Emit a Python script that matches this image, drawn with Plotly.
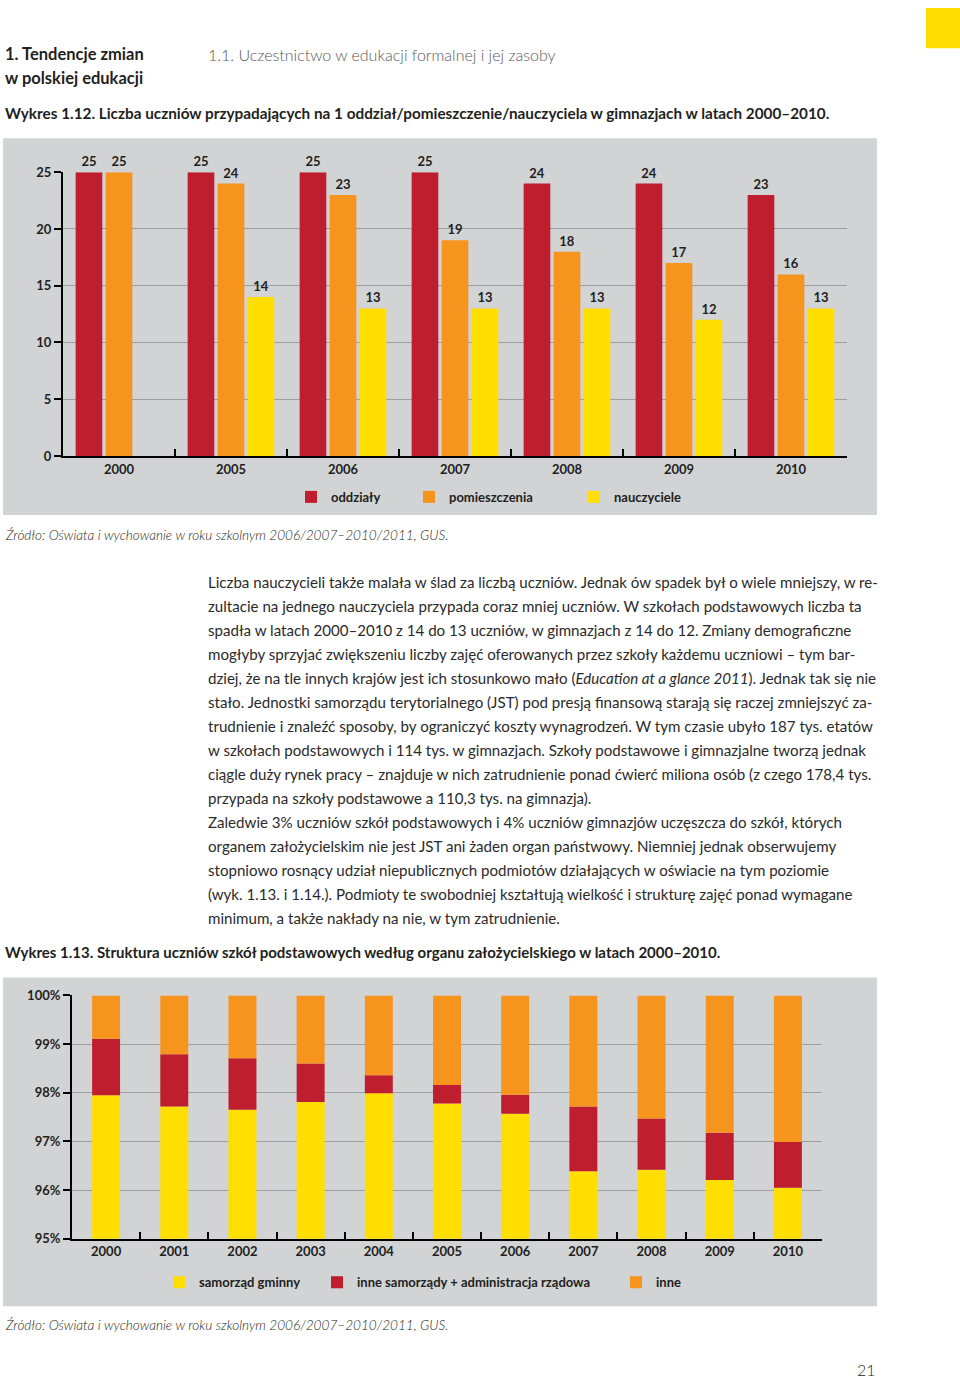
import plotly.graph_objects as go

W, H = 960, 1378
# the photographed page maps figure pixel y to image y as ~7.6 + 0.9893*y;
# positions below are given in reference-image pixels and converted back.
OFF_Y, SCALE_Y = 7.6, 0.9893


def X(px):
    return px / W


def Y(py):
    return 1 - ((py - OFF_Y) / SCALE_Y) / H


# ---------------- data: Wykres 1.12 ----------------
years1 = ["2000", "2005", "2006", "2007", "2008", "2009", "2010"]
oddzialy = [25, 25, 25, 25, 24, 24, 23]
pomieszczenia = [25, 24, 23, 19, 18, 17, 16]
nauczyciele = [None, 14, 13, 13, 13, 12, 13]
yticks1 = [0, 5, 10, 15, 20, 25]

# ---------------- data: Wykres 1.13 (percent of pupils) ----------------
years2 = ["2000", "2001", "2002", "2003", "2004", "2005", "2006", "2007", "2008", "2009", "2010"]
samorzad_gminny = [97.95, 97.72, 97.65, 97.81, 97.99, 97.78, 97.57, 96.39, 96.42, 96.21, 96.05]
inne_samorzady = [1.16, 1.07, 1.06, 0.79, 0.37, 0.38, 0.39, 1.33, 1.05, 0.97, 0.94]
inne = [0.89, 1.21, 1.29, 1.40, 1.64, 1.84, 2.04, 2.28, 2.53, 2.82, 3.01]
yticks2 = [95, 96, 97, 98, 99, 100]
yticklabels2 = ["95%", "96%", "97%", "98%", "99%", "100%"]

RED = "#be1e2d"
ORANGE = "#f7941d"
YELLOW = "#ffde00"
PANEL = "#d1d3d4"
INK = "#231f20"
GRID = "#9d9fa2"
FONT = "Lato, 'Open Sans', sans-serif"

fig = go.Figure()

# ---- chart 1: grouped bars via explicit width / offset ----
bw1 = 0.238
pitch1 = 0.268
series1 = [
    ("oddziały", oddzialy, RED, -bw1 / 2 - pitch1, "legend"),
    ("pomieszczenia", pomieszczenia, ORANGE, -bw1 / 2, "legend2"),
    ("nauczyciele", nauczyciele, YELLOW, -bw1 / 2 + pitch1, "legend3"),
]
for name, vals, col, off, lg in series1:
    fig.add_trace(go.Bar(
        x=years1, y=vals, name=name, marker=dict(color=col, line=dict(width=0)),
        width=bw1, offset=off,
        text=["" if v is None else str(v) for v in vals],
        textposition="outside", cliponaxis=False,
        textfont=dict(family=FONT, size=13, color=INK, weight=700),
        xaxis="x", yaxis="y", legend=lg, showlegend=True,
    ))

# ---- chart 2: stacked bars via base ----
bw2 = 0.41
base_red = list(samorzad_gminny)
base_orange = [a + b for a, b in zip(samorzad_gminny, inne_samorzady)]
series2 = [
    ("samorząd gminny", samorzad_gminny, [0] * len(years2), YELLOW, "legend4"),
    ("inne samorządy + administracja rządowa", inne_samorzady, base_red, RED, "legend5"),
    ("inne", inne, base_orange, ORANGE, "legend6"),
]
for name, vals, base, col, lg in series2:
    fig.add_trace(go.Bar(
        x=years2, y=vals, base=base, name=name,
        marker=dict(color=col, line=dict(width=0)),
        width=bw2, offset=-bw2 / 2,
        xaxis="x2", yaxis="y2", legend=lg, showlegend=True,
    ))

tickfont = dict(family=FONT, size=13, color=INK, weight=700)

fig.update_layout(
    width=W, height=H, margin=dict(l=0, r=0, t=0, b=0),
    paper_bgcolor="white", plot_bgcolor="rgba(0,0,0,0)", showlegend=True,
    barmode="overlay", font=dict(family=FONT, color=INK),
    xaxis=dict(domain=[X(63), X(847)], anchor="y", type="category",
               range=[-0.5, 6.5], showline=True, linecolor="black", linewidth=2,
               ticks="inside", tickson="boundaries", ticklen=7, tickwidth=1.5,
               tickcolor="black", showgrid=False, tickfont=tickfont, fixedrange=True),
    yaxis=dict(domain=[Y(456), Y(172)], anchor="x", range=[0, 25],
               tickmode="array", tickvals=yticks1, showline=True, linecolor="black", linewidth=2,
               ticks="outside", ticklen=7, tickwidth=1.5, tickcolor="black",
               showgrid=True, gridcolor=GRID, gridwidth=1, zeroline=False,
               tickfont=tickfont, fixedrange=True),
    xaxis2=dict(domain=[X(72), X(822)], anchor="y2", type="category",
                range=[-0.5, 10.5], showline=True, linecolor="black", linewidth=2,
                ticks="inside", tickson="boundaries", ticklen=7, tickwidth=1.5,
                tickcolor="black", showgrid=False, tickfont=tickfont, fixedrange=True),
    yaxis2=dict(domain=[Y(1239.5), Y(996)], anchor="x2", range=[95, 100],
                tickmode="array", tickvals=yticks2, ticktext=yticklabels2,
                showline=True, linecolor="black",
                linewidth=2, ticks="outside", ticklen=7, tickwidth=1.5,
                tickcolor="black", showgrid=True, gridcolor=GRID, gridwidth=1,
                zeroline=False, tickfont=tickfont, fixedrange=True),
)

legfont = dict(family=FONT, size=13, color=INK, weight=700)
leg_pos = {
    "legend": (305, 497), "legend2": (423, 497), "legend3": (588, 497),
    "legend4": (173, 1283), "legend5": (331, 1283), "legend6": (630, 1283),
}
for key, (lx, ly) in leg_pos.items():
    fig.update_layout(**{key: dict(
        x=X(lx - 14), y=Y(ly), xanchor="left", yanchor="middle",
        orientation="h", bgcolor="rgba(0,0,0,0)", borderwidth=0,
        font=legfont, itemclick=False, itemdoubleclick=False, visible=True,
    )})

shapes = [
    dict(type="rect", xref="paper", yref="paper", x0=X(3), x1=X(877), y0=Y(515), y1=Y(138),
         fillcolor=PANEL, line=dict(width=0), layer="below"),
    dict(type="rect", xref="paper", yref="paper", x0=X(3), x1=X(877), y0=Y(1307), y1=Y(978),
         fillcolor=PANEL, line=dict(width=0), layer="below"),
    dict(type="rect", xref="paper", yref="paper", x0=X(926), x1=X(960), y0=Y(48), y1=1.0,
         fillcolor=YELLOW, line=dict(width=0), layer="below"),
]
fig.update_layout(shapes=shapes)

ann = []


def txt(s, px, py, size=15, color=INK, weight=400, italic=False, anchor="left"):
    ann.append(dict(text=s, x=X(px), y=Y(py), xref="paper", yref="paper",
                    xanchor=anchor, yanchor="middle", showarrow=False,
                    font=dict(family=FONT, size=size, color=color, weight=weight,
                              style="italic" if italic else "normal")))


txt("1. Tendencje zmian", 3, 54, size=16.5, weight=700)
txt("w polskiej edukacji", 3, 78, size=16.5, weight=700)
txt("1.1. Uczestnictwo w edukacji formalnej i jej zasoby", 206, 54, size=16, color="#58595b", weight=300)
txt("Wykres 1.12. Liczba uczniów przypadających na 1 oddział/pomieszczenie/nauczyciela w gimnazjach w latach 2000–2010.",
    3, 113, size=15.3, weight=700)
txt("Źródło: Oświata i wychowanie w roku szkolnym 2006/2007–2010/2011, GUS.", 3, 535, size=13.6, italic=True, weight=300)

body = [
    "Liczba nauczycieli także malała w ślad za liczbą uczniów. Jednak ów spadek był o wiele mniejszy, w re-",
    "zultacie na jednego nauczyciela przypada coraz mniej uczniów. W szkołach podstawowych liczba ta",
    "spadła w latach 2000–2010 z 14 do 13 uczniów, w gimnazjach z 14 do 12. Zmiany demograficzne",
    "mogłyby sprzyjać zwiększeniu liczby zajęć oferowanych przez szkoły każdemu uczniowi – tym bar-",
    "dziej, że na tle innych krajów jest ich stosunkowo mało (<i>Education at a glance 2011</i>). Jednak tak się nie",
    "stało. Jednostki samorządu terytorialnego (JST) pod presją finansową starają się raczej zmniejszyć za-",
    "trudnienie i znaleźć sposoby, by ograniczyć koszty wynagrodzeń. W tym czasie ubyło 187 tys. etatów",
    "w szkołach podstawowych i 114 tys. w gimnazjach. Szkoły podstawowe i gimnazjalne tworzą jednak",
    "ciągle duży rynek pracy – znajduje w nich zatrudnienie ponad ćwierć miliona osób (z czego 178,4 tys.",
    "przypada na szkoły podstawowe a 110,3 tys. na gimnazja).",
    "Zaledwie 3% uczniów szkół podstawowych i 4% uczniów gimnazjów uczęszcza do szkół, których",
    "organem założycielskim nie jest JST ani żaden organ państwowy. Niemniej jednak obserwujemy",
    "stopniowo rosnący udział niepublicznych podmiotów działających w oświacie na tym poziomie",
    "(wyk. 1.13. i 1.14.). Podmioty te swobodniej kształtują wielkość i strukturę zajęć ponad wymagane",
    "minimum, a także nakłady na nie, w tym zatrudnienie.",
]
for i, line in enumerate(body):
    txt(line, 206, 582 + 24 * i, size=15.1, color="#2b2a2b", weight=400)

txt("Wykres 1.13. Struktura uczniów szkół podstawowych według organu założycielskiego w latach 2000–2010.",
    3, 952, size=15, weight=700)
txt("Źródło: Oświata i wychowanie w roku szkolnym 2006/2007–2010/2011, GUS.", 3, 1326, size=13.6, italic=True, weight=300)
txt("21", 878, 1370, size=16, weight=300, anchor="right")

fig.update_layout(annotations=ann)

fig.write_html(
    "out.html",
    config={"displayModeBar": False},
    post_script=(
        "var s=document.createElement('style');"
        "s.textContent='html,body{margin:0!important;padding:0!important;overflow:hidden;}';"
        "document.head.appendChild(s);"
    ),
)
